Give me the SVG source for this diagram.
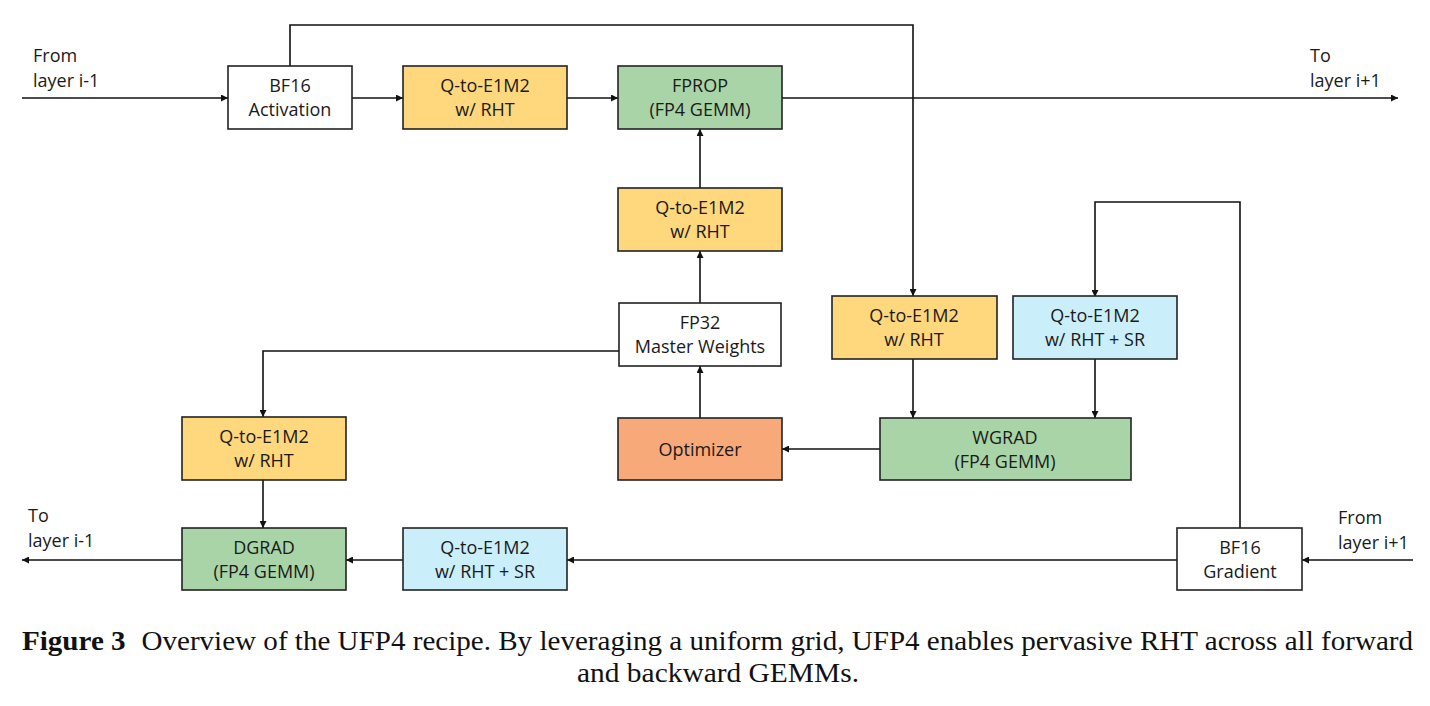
<svg xmlns="http://www.w3.org/2000/svg" width="1430" height="706" viewBox="0 0 1430 706">
<defs>
<marker id="ah" viewBox="0 0 10 10" refX="10" refY="5" markerWidth="7" markerHeight="7" markerUnits="userSpaceOnUse" orient="auto">
<path d="M0,0 L10,5 L0,10 z" fill="#111"/>
</marker>
</defs>
<style>
.box{stroke:#222;stroke-width:1.6}
.w{fill:#ffffff}.o{fill:#FFD77C}.g{fill:#A8D4A7}.b{fill:#CBEEFB}.r{fill:#F8A97A}
.t{font-family:"Open Sans","Liberation Sans",Arial,sans-serif;font-size:18px;fill:#1a1a1a;text-anchor:middle}
.lbl{font-family:"Open Sans","Liberation Sans",Arial,sans-serif;font-size:18px;fill:#1a1a1a}
.c{fill:none;stroke:#111;stroke-width:1.6}
.cap{font-family:"Liberation Serif","Times New Roman",serif;font-size:27px;fill:#111}
</style>
<rect width="1430" height="706" fill="#fff"/>
<g id="connectors">
<path class="c" d="M22,98 H228" marker-end="url(#ah)"/>
<path class="c" d="M352,98 H403" marker-end="url(#ah)"/>
<path class="c" d="M567,98 H618" marker-end="url(#ah)"/>
<path class="c" d="M782,98 H1398" marker-end="url(#ah)"/>
<path class="c" d="M290,66 V25 H913 V296" marker-end="url(#ah)"/>
<path class="c" d="M700,188 V129" marker-end="url(#ah)"/>
<path class="c" d="M700,303 V251" marker-end="url(#ah)"/>
<path class="c" d="M700,418 V366" marker-end="url(#ah)"/>
<path class="c" d="M619,351 H263 V417" marker-end="url(#ah)"/>
<path class="c" d="M263,480 V528" marker-end="url(#ah)"/>
<path class="c" d="M913,359 V418" marker-end="url(#ah)"/>
<path class="c" d="M1095,359 V418" marker-end="url(#ah)"/>
<path class="c" d="M1240,528 V202 H1095 V297" marker-end="url(#ah)"/>
<path class="c" d="M880,449 H782" marker-end="url(#ah)"/>
<path class="c" d="M1413,560 H1302" marker-end="url(#ah)"/>
<path class="c" d="M1177,560 H567" marker-end="url(#ah)"/>
<path class="c" d="M403,560 H346" marker-end="url(#ah)"/>
<path class="c" d="M182,560 H22" marker-end="url(#ah)"/>
</g>
<g id="labels">
<text class="lbl" x="33" y="62">From</text>
<text class="lbl" x="33" y="87">layer i-1</text>
<text class="lbl" x="1310" y="62">To</text>
<text class="lbl" x="1310" y="87">layer i+1</text>
<text class="lbl" x="28" y="522">To</text>
<text class="lbl" x="28" y="547">layer i-1</text>
<text class="lbl" x="1338" y="524">From</text>
<text class="lbl" x="1338" y="549">layer i+1</text>
</g>
<g id="bf16act"><rect class="box w" x="228" y="66" width="124" height="63"/><text class="t" x="290" y="92">BF16</text><text class="t" x="290" y="116">Activation</text></g>
<g id="qact"><rect class="box o" x="403" y="66" width="164" height="63"/><text class="t" x="485" y="92">Q-to-E1M2</text><text class="t" x="485" y="116">w/ RHT</text></g>
<g id="fprop"><rect class="box g" x="618" y="66" width="164" height="63"/><text class="t" x="700" y="92">FPROP</text><text class="t" x="700" y="116">(FP4 GEMM)</text></g>
<g id="qw"><rect class="box o" x="618" y="188" width="164" height="63"/><text class="t" x="700" y="214">Q-to-E1M2</text><text class="t" x="700" y="238">w/ RHT</text></g>
<g id="master"><rect class="box w" x="619" y="303" width="162" height="63"/><text class="t" x="700" y="329">FP32</text><text class="t" x="700" y="353">Master Weights</text></g>
<g id="optimizer"><rect class="box r" x="618" y="418" width="164" height="62"/><text class="t" x="700" y="456">Optimizer</text></g>
<g id="qact2"><rect class="box o" x="832" y="296" width="165" height="63"/><text class="t" x="914" y="322">Q-to-E1M2</text><text class="t" x="914" y="346">w/ RHT</text></g>
<g id="qgrad2"><rect class="box b" x="1013" y="296" width="164" height="63"/><text class="t" x="1095" y="322">Q-to-E1M2</text><text class="t" x="1095" y="346">w/ RHT + SR</text></g>
<g id="wgrad"><rect class="box g" x="880" y="418" width="251" height="62"/><text class="t" x="1005" y="444">WGRAD</text><text class="t" x="1005" y="468">(FP4 GEMM)</text></g>
<g id="qw2"><rect class="box o" x="182" y="417" width="164" height="63"/><text class="t" x="264" y="443">Q-to-E1M2</text><text class="t" x="264" y="467">w/ RHT</text></g>
<g id="dgrad"><rect class="box g" x="182" y="528" width="164" height="62"/><text class="t" x="264" y="554">DGRAD</text><text class="t" x="264" y="578">(FP4 GEMM)</text></g>
<g id="qgrad"><rect class="box b" x="403" y="528" width="164" height="62"/><text class="t" x="485" y="554">Q-to-E1M2</text><text class="t" x="485" y="578">w/ RHT + SR</text></g>
<g id="bf16grad"><rect class="box w" x="1177" y="528" width="125" height="62"/><text class="t" x="1240" y="554">BF16</text><text class="t" x="1240" y="578">Gradient</text></g>
<g id="caption">
<text class="cap" x="22" y="650" textLength="1391" lengthAdjust="spacingAndGlyphs"><tspan font-weight="bold">Figure 3</tspan><tspan dx="8"> Overview of the UFP4 recipe. By leveraging a uniform grid, UFP4 enables pervasive RHT across all forward</tspan></text>
<text class="cap" x="577" y="682" textLength="282" lengthAdjust="spacingAndGlyphs">and backward GEMMs.</text>
</g>
</svg>
